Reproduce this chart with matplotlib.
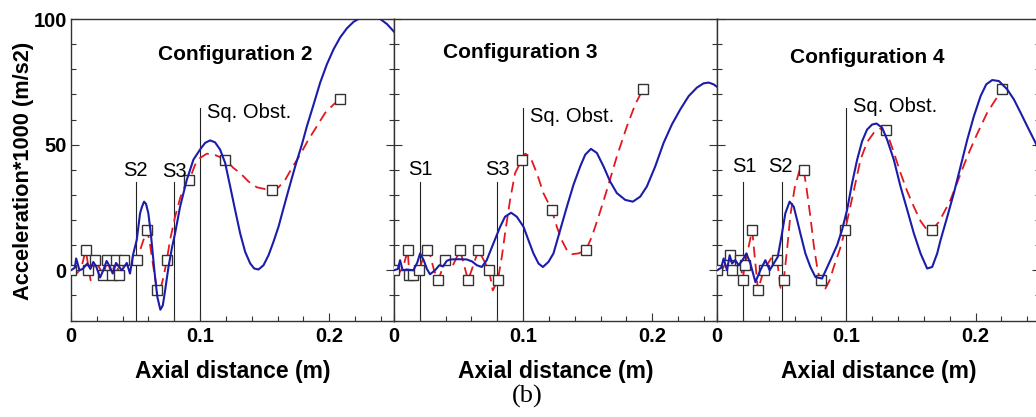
import matplotlib.pyplot as plt
from matplotlib.ticker import MultipleLocator

plt.rcParams['font.family'] = ['Liberation Sans', 'DejaVu Sans']

# ---- Configuration 2 ----
c2_sim_x = [0, 0.003, 0.004, 0.0055, 0.0065, 0.009, 0.0127, 0.015, 0.0173, 0.0195, 0.0225, 0.025,
            0.0276, 0.030, 0.0323, 0.0349, 0.037, 0.0393, 0.041, 0.0432, 0.0457, 0.0483, 0.0509,
            0.0522, 0.0535, 0.055, 0.0566, 0.0581, 0.0599, 0.0618, 0.0633, 0.0651, 0.0669, 0.0692,
            0.0711, 0.0729, 0.0755, 0.0781, 0.0806, 0.0845, 0.0897, 0.0948, 0.1003, 0.1039, 0.1078,
            0.1116, 0.1155, 0.1194, 0.1233, 0.1271, 0.131, 0.1349, 0.1388, 0.1419, 0.1452, 0.1491,
            0.153, 0.1568, 0.1607, 0.1646, 0.1685, 0.1736, 0.1788, 0.1827, 0.1879, 0.193, 0.1982,
            0.2034, 0.2085, 0.2137, 0.2189, 0.224, 0.228, 0.232, 0.236, 0.2395, 0.2447, 0.2506]
c2_sim_y = [0, 1, 4.7, 2, 0, 0.5, 2.7, 0.5, 3.3, 1.5, -2.9, 0, 3.7, 1.5, -1.3, 2.9, 1.5, 0, 1.2,
            2.9, -1.3, 6.7, 12, 17.3, 22.7, 25.3, 27.3, 26.4, 22.7, 14.7, 6.7, -2.7, -10.7, -15.7,
            -14, -8, 1.3, 8.7, 14.7, 25.3, 36, 44, 48.3, 50.7, 51.7, 50.9, 48, 42.7, 33.3, 24,
            14.7, 7.3, 2.7, 0.7, 0.3, 2, 6, 11.3, 17.3, 24.7, 32, 41.3, 50, 57.3, 66, 74.7, 82,
            88, 92.7, 96.3, 98.9, 100.4, 101.5, 102, 101.3, 100, 98, 94.7]
c2_fit_x = [0, 0.005, 0.008, 0.0114, 0.0152, 0.0186, 0.022, 0.025, 0.0282, 0.0315, 0.0346, 0.0375,
            0.0413, 0.046, 0.0509, 0.0548, 0.0587, 0.0607, 0.0638, 0.0667, 0.069, 0.0715, 0.0742,
            0.0767, 0.0806, 0.0845, 0.0884, 0.0917, 0.0961, 0.1, 0.1052, 0.111, 0.1155, 0.1196,
            0.1258, 0.131, 0.1375, 0.144, 0.1504, 0.1558, 0.1607, 0.1659, 0.1711, 0.1775, 0.1839,
            0.1904, 0.1969, 0.2034, 0.2083]
c2_fit_y = [0, -1, 1, 8, -4, 4, 1, -2, 4, -2, 4, -2, 4, 2, 4, 10, 16, 12, 1.3, -8, -8, -3, 4,
            12, 21.3, 28.7, 34, 36, 42, 44.7, 46.4, 46, 45, 44, 40.7, 38.7, 35.3, 33, 32.3, 32,
            33, 36, 40.7, 46, 52, 57.3, 62.7, 66, 68]
c2_exp_x = [0, 0.0114, 0.0134, 0.0186, 0.025, 0.0282, 0.0315, 0.0346, 0.0375, 0.0413, 0.0509,
            0.0587, 0.0667, 0.0742, 0.0917, 0.1196, 0.1558, 0.2083]
c2_exp_y = [0, 8, 0, 4, -2, 4, -2, 4, -2, 4, 4, 16, -8, 4, 36, 44, 32, 68]

# ---- Configuration 3 ----
c3_sim_x = [0, 0.003, 0.0047, 0.0067, 0.01, 0.015, 0.018, 0.0202, 0.023, 0.0255, 0.0279, 0.0318,
            0.0351, 0.038, 0.0408, 0.0434, 0.05, 0.0563, 0.0605, 0.0641, 0.068, 0.0718, 0.077,
            0.0822, 0.086, 0.0907, 0.0951, 0.1003, 0.1041, 0.108, 0.1119, 0.1153, 0.1196, 0.1235,
            0.1287, 0.1339, 0.139, 0.1442, 0.1481, 0.1525, 0.1571, 0.1623, 0.1674, 0.1726, 0.1791,
            0.185, 0.1907, 0.1958, 0.2023, 0.2088, 0.2152, 0.2217, 0.2282, 0.2346, 0.2398, 0.2437,
            0.2475, 0.251]
c3_sim_y = [0, 0.5, 4, 0, 0.3, 0, 3, 6.7, 4, 0.5, -1.6, 0, 2, 1.5, 3.7, 4.3, 4.4, 4.3, 3.5, 2,
            1.3, 4, 10.7, 17.3, 21.3, 22.9, 21.3, 17.3, 12, 6.7, 2.7, 1.3, 3.3, 6.7, 16, 25.3, 34,
            41.3, 46, 48.3, 46.7, 41.3, 35.3, 30.7, 28, 27.3, 29.3, 33.3, 41.3, 50.7, 58, 64,
            69.3, 72.7, 74.4, 74.7, 74, 72.7]
c3_fit_x = [0, 0.004, 0.007, 0.0106, 0.0119, 0.015, 0.0196, 0.0225, 0.0253, 0.028, 0.031, 0.0344,
            0.0395, 0.045, 0.0512, 0.0574, 0.0654, 0.0736, 0.0765, 0.0804, 0.0835, 0.086, 0.0899,
            0.0938, 0.099, 0.1016, 0.1054, 0.1106, 0.1157, 0.1222, 0.1261, 0.1299, 0.1339, 0.1377,
            0.1429, 0.1486, 0.1532, 0.1584, 0.1649, 0.1726, 0.1804, 0.1868, 0.1928]
c3_fit_y = [0, -1, 1, 8, -2, -2, 0, 5, 8, 6, 0, -4, 4, 1.3, 8, -4, 8, 0, -8, -4, 5.3, 14.7, 28,
            38.7, 44, 46.4, 45.3, 38.7, 30.7, 24, 17.3, 12, 8, 6.4, 6.7, 8, 13.3, 21.3, 32, 45.3,
            57.3, 66, 72]
c3_exp_x = [0, 0.0106, 0.0119, 0.015, 0.0196, 0.0253, 0.0344, 0.0395, 0.0512, 0.0574, 0.0654,
            0.0736, 0.0804, 0.099, 0.1222, 0.1486, 0.1928]
c3_exp_y = [0, 8, -2, -2, 0, 8, -4, 4, 8, -4, 8, 0, -4, 44, 24, 8, 72]

# ---- Configuration 4 ----
c4_sim_x = [0, 0.003, 0.0049, 0.0075, 0.0096, 0.0114, 0.014, 0.0165, 0.0195, 0.0225, 0.0256,
            0.0295, 0.0333, 0.0372, 0.0406, 0.0437, 0.0468, 0.0501, 0.0527, 0.056, 0.0592, 0.0618,
            0.0643, 0.0682, 0.0721, 0.076, 0.0811, 0.0876, 0.0928, 0.0966, 0.1005, 0.1044, 0.1083,
            0.1121, 0.116, 0.1199, 0.1233, 0.1277, 0.1315, 0.1367, 0.1419, 0.1471, 0.1522, 0.1574,
            0.1625, 0.1664, 0.1703, 0.1729, 0.1781, 0.1832, 0.1884, 0.1936, 0.1987, 0.2039, 0.2083,
            0.2129, 0.2181, 0.2245, 0.2297, 0.2349, 0.2413, 0.2465, 0.2515]
c4_sim_y = [0, 1, 4.7, 0, 6, 2.7, 4, 2, 4, 6.7, 2.7, -4.7, 0, 4, 0, 2.7, 5.3, 14.7, 22.7, 27.3,
            25.3, 20, 14.7, 6.7, 1.3, -2.7, -3.3, 4, 10, 16, 24, 34.7, 44, 51.3, 56, 58, 58.4,
            56.7, 52, 44, 33.3, 24, 14.7, 6.7, 0.7, 1.3, 6.7, 12, 21.3, 30.7, 41.3, 52, 61.3,
            69.3, 74, 75.7, 75.3, 72, 68, 62.7, 56, 50.7, 44]
c4_fit_x = [0, 0.004, 0.0096, 0.0114, 0.0178, 0.0196, 0.0212, 0.027, 0.0315, 0.0359, 0.042,
            0.0463, 0.049, 0.0514, 0.054, 0.0566, 0.06, 0.0635, 0.0656, 0.0669, 0.069, 0.0721,
            0.0747, 0.0773, 0.08, 0.0837, 0.087, 0.0902, 0.095, 0.099, 0.105, 0.1109, 0.116,
            0.1212, 0.126, 0.1305, 0.136, 0.1419, 0.147, 0.1522, 0.1575, 0.1625, 0.1664, 0.172,
            0.1806, 0.187, 0.1936, 0.201, 0.209, 0.215, 0.2207]
c4_fit_y = [0, 0.5, 6, 0, 4, -4, 2, 16, -8, 0, 5, 4, -7, -4, 8, 22, 33, 39.5, 40.7, 40, 33, 21.3,
            10, 1.3, -5, -7.3, -4, 1.3, 8.5, 16, 30, 44, 51, 54.7, 56.3, 56, 48, 38.7, 31.5, 25.3,
            19.5, 16, 16, 19.5, 28, 36.5, 45.3, 54, 62.7, 67.5, 72]
c4_exp_x = [0, 0.0096, 0.0114, 0.0178, 0.0196, 0.0212, 0.027, 0.0315, 0.0359, 0.0463, 0.0514,
            0.0669, 0.0806, 0.099, 0.1305, 0.1664, 0.2207]
c4_exp_y = [0, 6, 0, 4, -4, 2, 16, -8, 0, 4, -4, 40, -4, 16, 56, 16, 72]

titles = ['Configuration 2', 'Configuration 3', 'Configuration 4']
title_pos = [(0.1271, 86), (0.0977, 86.8), (0.1163, 84.7)]
# sensor markers: (label, x, label_x, label_y)
sensors = [
    [('S2', 0.05, 0.0496, 39.7), ('S3', 0.08, 0.0799, 39.2)],
    [('S1', 0.02, 0.0208, 40), ('S3', 0.08, 0.0798, 40)],
    [('S1', 0.02, 0.0209, 41.3), ('S2', 0.05, 0.0488, 41.3)],
]
obst_label_y = [62.8, 61, 65.3]

sim = [(c2_sim_x, c2_sim_y), (c3_sim_x, c3_sim_y), (c4_sim_x, c4_sim_y)]
fit = [(c2_fit_x, c2_fit_y), (c3_fit_x, c3_fit_y), (c4_fit_x, c4_fit_y)]
exp = [(c2_exp_x, c2_exp_y), (c3_exp_x, c3_exp_y), (c4_exp_x, c4_exp_y)]

fig = plt.figure(figsize=(10.36, 4.17), dpi=100)
lefts = [0.06853, 0.38031, 0.69238]
W, B, H = 0.31158, 0.23141, 0.72302

for i in range(3):
    ax = fig.add_axes([lefts[i], B, W, H])
    ax.plot(fit[i][0], fit[i][1], color='#e3181f', lw=1.3, ls=(0, (6, 3.5)), zorder=2)
    ax.plot(exp[i][0], exp[i][1], ls='none', marker='s', ms=7, mfc='white', mec='#333333',
            mew=1.0, zorder=3)
    ax.plot(sim[i][0], sim[i][1], color='#1c1caa', lw=1.5, zorder=4)

    for lab, xs, lx, ly in sensors[i]:
        ax.plot([xs, xs], [-20, 35], color='#222222', lw=0.8, zorder=1)
        ax.text(lx, ly, lab, fontsize=14.5, ha='center', va='center')
    ax.plot([0.1, 0.1], [-20, 64.7], color='#222222', lw=0.8, zorder=1)
    ax.text(0.105, obst_label_y[i], 'Sq. Obst.', fontsize=14.5, ha='left', va='center')
    ax.text(title_pos[i][0], title_pos[i][1], titles[i], fontsize=15, fontweight='bold',
            ha='center', va='center')

    ax.set_xlim(0, 0.25)
    ax.set_ylim(-20, 100)
    ax.xaxis.set_major_locator(MultipleLocator(0.1))
    ax.xaxis.set_minor_locator(MultipleLocator(0.02))
    ax.yaxis.set_major_locator(MultipleLocator(50))
    ax.yaxis.set_minor_locator(MultipleLocator(10))
    ax.set_xticks([0, 0.1, 0.2])
    ax.set_xticklabels(['0', '0.1', '0.2'])
    ax.tick_params(which='both', direction='in', left=True, right=True, top=False, bottom=True,
                   width=0.8, color='#333333', labelsize=14.5)
    ax.tick_params(which='major', length=6)
    ax.tick_params(which='minor', length=3.5)
    ax.tick_params(axis='x', pad=5)
    ax.tick_params(axis='y', pad=3)
    for lbl in ax.get_xticklabels() + ax.get_yticklabels():
        lbl.set_fontweight('bold')
    for sp in ax.spines.values():
        sp.set_color('#333333')
        sp.set_linewidth(1.0)
    if i == 0:
        ax.set_ylabel('Acceleration*1000 (m/s2)', fontsize=15.7, fontweight='bold')
        ax.yaxis.set_label_coords(-0.115, 0.4975)
    else:
        ax.tick_params(axis='y', labelleft=False)
    ax.set_xlabel('Axial distance (m)', fontsize=16.5, fontweight='bold')
    ax.xaxis.set_label_coords(0.5, -0.131)

fig.text(0.5094, 0.0487, '(b)', fontsize=19, ha='center', va='center',
         family=['Liberation Serif', 'DejaVu Serif'])

fig.savefig('out.png', dpi=100)
